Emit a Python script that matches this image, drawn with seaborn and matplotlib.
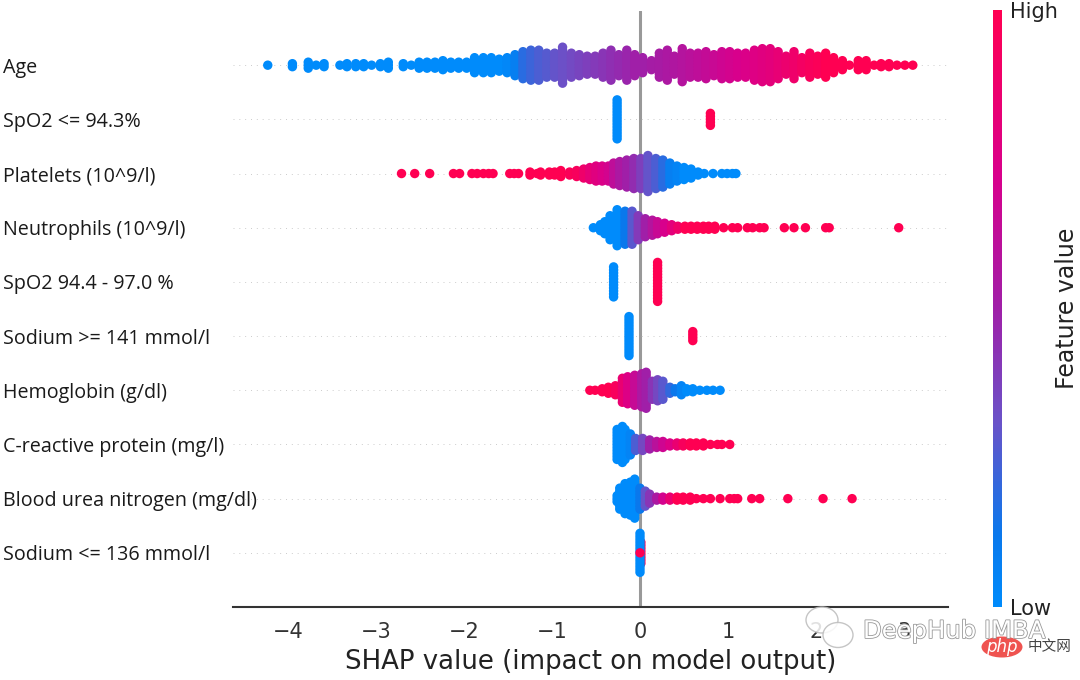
import matplotlib
matplotlib.use("Agg")
import matplotlib.patheffects as pe
import matplotlib.pyplot as plt
import numpy as np
import pandas as pd
import seaborn as sns
from matplotlib.colors import LinearSegmentedColormap
from matplotlib.patches import Ellipse

features = ["Age", "SpO2 <= 94.3%", "Platelets (10^9/l)", "Neutrophils (10^9/l)", "SpO2 94.4 - 97.0 %",
            "Sodium >= 141 mmol/l", "Hemoglobin (g/dl)", "C-reactive protein (mg/l)",
            "Blood urea nitrogen (mg/dl)", "Sodium <= 136 mmol/l"]
xticks = [-4, -3, -2, -1, 0, 1, 2, 3]

# each feature: shap value of a column, points stacked in it, feature value 0-1
age_x = [-4.23, -3.95, -3.77, -3.68, -3.59, -3.41, -3.33, -3.23, -3.14, -3.05, -2.95, -2.86, -2.69, -2.60, -2.51,
         -2.42, -2.33, -2.24, -2.15, -2.06, -1.97, -1.88, -1.78, -1.69, -1.60, -1.51, -1.42, -1.33, -1.24, -1.15,
         -1.06, -0.97, -0.88, -0.78, -0.69, -0.60, -0.51, -0.42, -0.33, -0.24, -0.15, -0.06, 0.03, 0.13, 0.22,
         0.31, 0.39, 0.48, 0.57, 0.66, 0.75, 0.84, 0.93, 1.02, 1.11, 1.20, 1.30, 1.39, 1.48, 1.57, 1.66, 1.75,
         1.84, 1.93, 2.02, 2.11, 2.20, 2.30, 2.38, 2.48, 2.57, 2.66, 2.74, 2.83, 2.92, 3.01, 3.10]
age_n = [1, 2, 3, 1, 2, 1, 2, 2, 2, 1, 2, 3, 2, 1, 3, 3, 3, 4, 3, 3, 3, 6, 6, 6, 5, 6, 8, 10, 11, 11,
         9, 9, 13, 9, 8, 7, 7, 9, 11, 8, 11, 8, 6, 4, 9, 11, 7, 12, 9, 9, 10, 8, 10, 10, 9, 9, 11, 12, 12,
         10, 7, 10, 6, 9, 7, 9, 6, 4, 1, 4, 4, 1, 2, 2, 1, 1, 1]
age_v = [0, 0, 0, 0, 0, 0, 0, 0, 0, 0, 0, 0, 0, 0, 0, 0, 0, 0, 0, 0, 0, 0, 0, 0, 0, 0.03, 0.08, 0.18, 0.22, 0.25,
         0.27, 0.3, 0.32, 0.34, 0.36, 0.38, 0.4, 0.42, 0.44, 0.46, 0.48, 0.5, 0.5, 0.52, 0.53, 0.55, 0.56, 0.58,
         0.6, 0.62, 0.64, 0.66, 0.68, 0.7, 0.72, 0.74, 0.76, 0.78, 0.8, 0.83, 0.86, 0.88, 0.92, 0.95, 0.97,
         1, 1, 1, 1, 1, 1, 1, 1, 1, 1, 1, 1]

spo2_low_x = [-0.26, 0.80]
spo2_low_n = [14, 5]
spo2_low_v = [0, 1]

plt_x = [-2.71, -2.56, -2.39, -2.12, -2.05, -1.91, -1.85, -1.78, -1.72, -1.67, -1.48, -1.43, -1.38, -1.25, -1.17,
         -1.13, -1.03, -0.97, -0.90, -0.80, -0.72, -0.64, -0.57, -0.50, -0.43, -0.36, -0.30, -0.23, -0.15, -0.07,
         0.01, 0.09, 0.18, 0.26, 0.34, 0.42, 0.50, 0.58, 0.66, 0.73, 0.83, 0.93, 0.99, 1.05, 1.09]
plt_n = [1, 1, 1, 1, 1, 1, 1, 1, 1, 1, 1, 1, 1, 2, 1, 2, 2, 2, 3, 2, 3, 4, 5, 6, 6, 6, 8, 9, 10, 11,
         11, 13, 11, 10, 8, 6, 5, 4, 2, 1, 1, 1, 1, 1, 1]
plt_v = [1, 1, 1, 1, 1, 1, 1, 1, 1, 1, 1, 1, 1, 1, 1, 1, 1, 1, 1, 0.97, 0.95, 0.88, 0.82, 0.78, 0.74, 0.7, 0.62,
         0.55, 0.5, 0.45, 0.38, 0.3, 0.25, 0.18, 0.08, 0.05, 0, 0, 0, 0, 0, 0, 0, 0, 0]

neu_x = [-0.53, -0.45, -0.40, -0.34, -0.26, -0.17, -0.09, -0.02, 0.06, 0.14, 0.20, 0.28, 0.36, 0.43, 0.51, 0.58,
         0.65, 0.72, 0.78, 0.85, 0.95, 1.05, 1.11, 1.22, 1.28, 1.36, 1.41, 1.64, 1.75, 1.88, 2.11, 2.15, 2.94]
neu_n = [1, 3, 5, 9, 13, 12, 12, 9, 7, 6, 5, 4, 3, 2, 2, 2, 2, 2, 2, 2, 1, 1, 1, 1, 1, 1, 1, 1, 1, 1, 1, 1, 1]
neu_v = [0, 0, 0, 0, 0, 0.12, 0.28, 0.4, 0.5, 0.58, 0.66, 0.72, 0.8, 0.88, 1, 1, 1, 1, 1, 1, 1, 1, 1, 1, 1, 1, 1,
         1, 1, 1, 1, 1, 1]

spo2_mid_x = [-0.30, 0.20]
spo2_mid_n = [11, 14]
spo2_mid_v = [0, 1]

na_high_x = [-0.125, 0.60]
na_high_n = [14, 4]
na_high_v = [0, 1]

hb_x = [-0.57, -0.51, -0.43, -0.36, -0.28, -0.20, -0.14, -0.06, 0.02, 0.07, 0.14, 0.20, 0.26, 0.34, 0.40, 0.47,
        0.53, 0.60, 0.68, 0.76, 0.83, 0.91]
hb_n = [1, 1, 2, 3, 4, 9, 10, 11, 12, 13, 7, 8, 7, 3, 2, 4, 2, 2, 1, 1, 1, 1]
hb_v = [1, 1, 1, 1, 0.95, 0.85, 0.75, 0.65, 0.55, 0.5, 0.42, 0.35, 0.28, 0.2, 0.12, 0.05, 0, 0, 0, 0, 0, 0]

crp_x = [-0.26, -0.20, -0.17, -0.11, -0.05, 0.03, 0.11, 0.19, 0.26, 0.34, 0.42, 0.49, 0.57, 0.64, 0.72, 0.80,
         0.88, 0.93, 1.02]
crp_n = [11, 13, 11, 8, 5, 5, 4, 3, 3, 2, 2, 2, 2, 2, 2, 1, 1, 1, 1]
crp_v = [0, 0, 0, 0.05, 0.25, 0.35, 0.5, 0.6, 0.68, 0.75, 0.85, 0.95, 1, 1, 1, 1, 1, 1, 1]

bun_x = [-0.26, -0.23, -0.17, -0.11, -0.06, 0.0, 0.06, 0.11, 0.19, 0.26, 0.34, 0.42, 0.49, 0.57, 0.64, 0.72, 0.80,
         0.91, 1.02, 1.07, 1.11, 1.27, 1.36, 1.68, 2.08, 2.41]
bun_n = [3, 8, 11, 12, 14, 8, 6, 4, 2, 2, 2, 2, 2, 2, 1, 1, 1, 1, 1, 1, 1, 1, 1, 1, 1, 1]
bun_v = [0, 0, 0, 0, 0, 0.12, 0.3, 0.42, 0.55, 0.7, 0.85, 1, 1, 1, 1, 1, 1, 1, 1, 1, 1, 1, 1, 1, 1, 1]

na_low_x = [0.01, 0.0, 0.0]
na_low_n = [8, 14, 1]
na_low_v = [1, 0, 1]

rows = [(age_x, age_n, age_v), (spo2_low_x, spo2_low_n, spo2_low_v), (plt_x, plt_n, plt_v), (neu_x, neu_n, neu_v),
        (spo2_mid_x, spo2_mid_n, spo2_mid_v), (na_high_x, na_high_n, na_high_v), (hb_x, hb_n, hb_v),
        (crp_x, crp_n, crp_v), (bun_x, bun_n, bun_v), (na_low_x, na_low_n, na_low_v)]

red_blue = LinearSegmentedColormap.from_list(
    "red_blue", [(0, "#008bfb"), (0.12, "#0a78ec"), (0.31, "#6a52c8"), (0.5, "#a01fa8"), (0.72, "#d8008c"), (1, "#ff0052")])

sns.set_style("white")
plt.rcParams["font.family"] = ["DejaVu Sans"]

# stack every column around its row, the way a shap summary plot does
STEP = 3 / 54.2
records = []
for row, (xs, ns, vs) in enumerate(rows):
    for x, n, v in zip(xs, ns, vs):
        for i in range(n):
            records.append((x, row + (i - (n - 1) / 2) * STEP, v))
df = pd.DataFrame(records, columns=["shap", "y", "value"])

fig = plt.figure(figsize=(10.8, 6.8), dpi=100)
ax = fig.add_axes([233 / 1080, 73 / 680, 715 / 1080, 596 / 680])
ax.axvline(0, color="#999999", lw=2.2, zorder=0)
for row in range(len(features)):
    ax.axhline(row, color="#cccccc", lw=0.7, dashes=(1, 5), zorder=0)
sns.scatterplot(data=df, x="shap", y="y", hue="value", palette=red_blue, hue_norm=(0, 1), s=46, linewidth=0,
                legend=False, ax=ax, zorder=3)

ax.set_xlim(-4.625, 3.5)
ax.set_ylim(10, -1)
ax.set_yticks(range(len(features)))
ax.set_yticklabels(features, family="Open Sans", fontsize=14.2, color="#1a1a1a", ha="left")
ax.tick_params(axis="y", length=0, pad=165.6)
ax.set_xticks(xticks)
ax.set_xticklabels([str(t).replace("-", "\u2212") for t in xticks])
ax.tick_params(axis="x", length=5, width=1.2, pad=6, color="#333333", labelcolor="#333333", labelsize=15)
ax.set_xlabel("SHAP value (impact on model output)", fontsize=18.7, color="#222222", labelpad=5)
ax.set_ylabel("")
for side in ["top", "left", "right"]:
    ax.spines[side].set_visible(False)
ax.spines["bottom"].set_color("#333333")
ax.spines["bottom"].set_linewidth(1.5)

cax = fig.add_axes([993 / 1080, 73 / 680, 9 / 1080, 597 / 680])
cbar = fig.colorbar(plt.cm.ScalarMappable(norm=plt.Normalize(0, 1), cmap=red_blue), cax=cax)
cbar.set_ticks([0, 1])
cbar.set_ticklabels(["Low", "High"])
cbar.ax.tick_params(length=0, labelsize=15, pad=6, labelcolor="#222222")
cbar.outline.set_visible(False)
cbar.set_label("Feature value", fontsize=17, color="#222222", labelpad=-2)

# watermark
for cx, cy, w, h in [(822, 620, 32, 26), (838, 635, 30, 25)]:
    fig.add_artist(Ellipse((cx / 1080, 1 - cy / 680), w / 1080, h / 680, transform=fig.transFigure, facecolor="white",
                           edgecolor="#bbbbbb", lw=1, alpha=0.85, zorder=5))
fig.text(863 / 1080, 1 - 631 / 680, "DeepHub IMBA", fontsize=17.5, color="white", va="center", zorder=6,
         path_effects=[pe.withStroke(linewidth=1.2, foreground="#999999")])
fig.add_artist(Ellipse((1002 / 1080, 1 - 647 / 680), 41 / 1080, 21 / 680, transform=fig.transFigure,
                       facecolor="#ef5350", edgecolor="none", zorder=5))
fig.text(1002 / 1080, 1 - 647 / 680, "php", fontsize=12, style="italic", color="white", ha="center", va="center", zorder=6)
fig.text(1028 / 1080, 1 - 647 / 680, "中文网", fontsize=10.5, family=["Noto Sans CJK SC", "DejaVu Sans"], color="#444444",
         va="center", zorder=6)

fig.savefig("out.png", dpi=100)
